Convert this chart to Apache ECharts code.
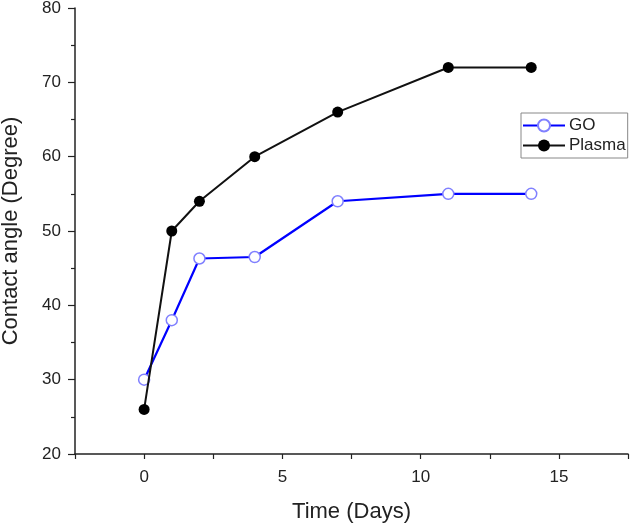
<!DOCTYPE html>
<html>
<head>
<meta charset="utf-8">
<script src="https://cdn.jsdelivr.net/npm/echarts@6/dist/echarts.min.js"></script>
<style>html,body{margin:0;padding:0;background:#fff}#c{width:635px;height:526px}</style>
</head>
<body>
<div id="c"></div>
<script>
const days = [0, 1, 2, 4, 7, 11, 14];
const goValues = [30, 38, 46.3, 46.5, 54, 55, 55];
const plasmaValues = [26, 50, 54, 60, 66, 72, 72];
const seriesNames = ['GO', 'Plasma'];
const xTitle = 'Time (Days)';
const yTitle = 'Contact angle (Degree)';

const font = 'Liberation Sans, Arial, sans-serif';
const chart = echarts.init(document.getElementById('c'), null, {renderer: 'canvas'});
chart.setOption({
  animation: false,
  backgroundColor: '#fff',
  grid: {left: 75, right: 7, top: 8, bottom: 72, containLabel: false, outerBoundsMode: 'none'},
  legend: {
    orient: 'vertical',
    left: 521, top: 113,
    padding: [4, 2, 4, 1],
    itemWidth: 42, itemHeight: 15, itemGap: 3,
    borderColor: '#888', borderWidth: 1,
    textStyle: {fontFamily: font, fontSize: 17, color: '#222', padding: [0, 0, 0, -1]},
    data: seriesNames
  },
  xAxis: {
    type: 'value', min: -2.5, max: 17.5, interval: 2.5,
    name: xTitle, nameLocation: 'middle', nameGap: 47,
    nameTextStyle: {fontFamily: font, fontSize: 22, color: '#222'},
    axisLine: {show: true, onZero: false, lineStyle: {color: '#222', width: 1.5}},
    axisTick: {show: true, inside: false, length: 5, lineStyle: {color: '#222', width: 1.2}},
    axisLabel: {fontFamily: font, fontSize: 17, color: '#222', margin: 15,
      formatter: v => (Math.abs(v % 5) < 1e-9 ? String(v) : '')},
    splitLine: {show: false}
  },
  yAxis: {
    type: 'value', min: 20, max: 80, interval: 10,
    name: yTitle, nameLocation: 'middle', nameGap: 53, nameRotate: 90,
    nameTextStyle: {fontFamily: font, fontSize: 22, color: '#222'},
    axisLine: {show: true, onZero: false, lineStyle: {color: '#222', width: 1.5}},
    axisTick: {show: true, inside: false, length: 7, lineStyle: {color: '#222', width: 1.2}},
    minorTick: {show: true, splitNumber: 2, length: 4, lineStyle: {color: '#222', width: 1.2}},
    axisLabel: {fontFamily: font, fontSize: 17, color: '#222', margin: 14},
    splitLine: {show: false}
  },
  series: [
    {
      name: seriesNames[0], type: 'line',
      data: days.map((d, i) => [d, goValues[i]]),
      symbol: 'circle', symbolSize: 11,
      lineStyle: {color: '#0000ff', width: 2.2},
      itemStyle: {color: '#ffffff', borderColor: '#8080ff', borderWidth: 1.5},
      z: 2
    },
    {
      name: seriesNames[1], type: 'line',
      data: days.map((d, i) => [d, plasmaValues[i]]),
      symbol: 'circle', symbolSize: 11,
      lineStyle: {color: '#111111', width: 2},
      itemStyle: {color: '#000000', borderColor: '#000000', borderWidth: 0},
      z: 3
    }
  ]
});
</script>
</body>
</html>
